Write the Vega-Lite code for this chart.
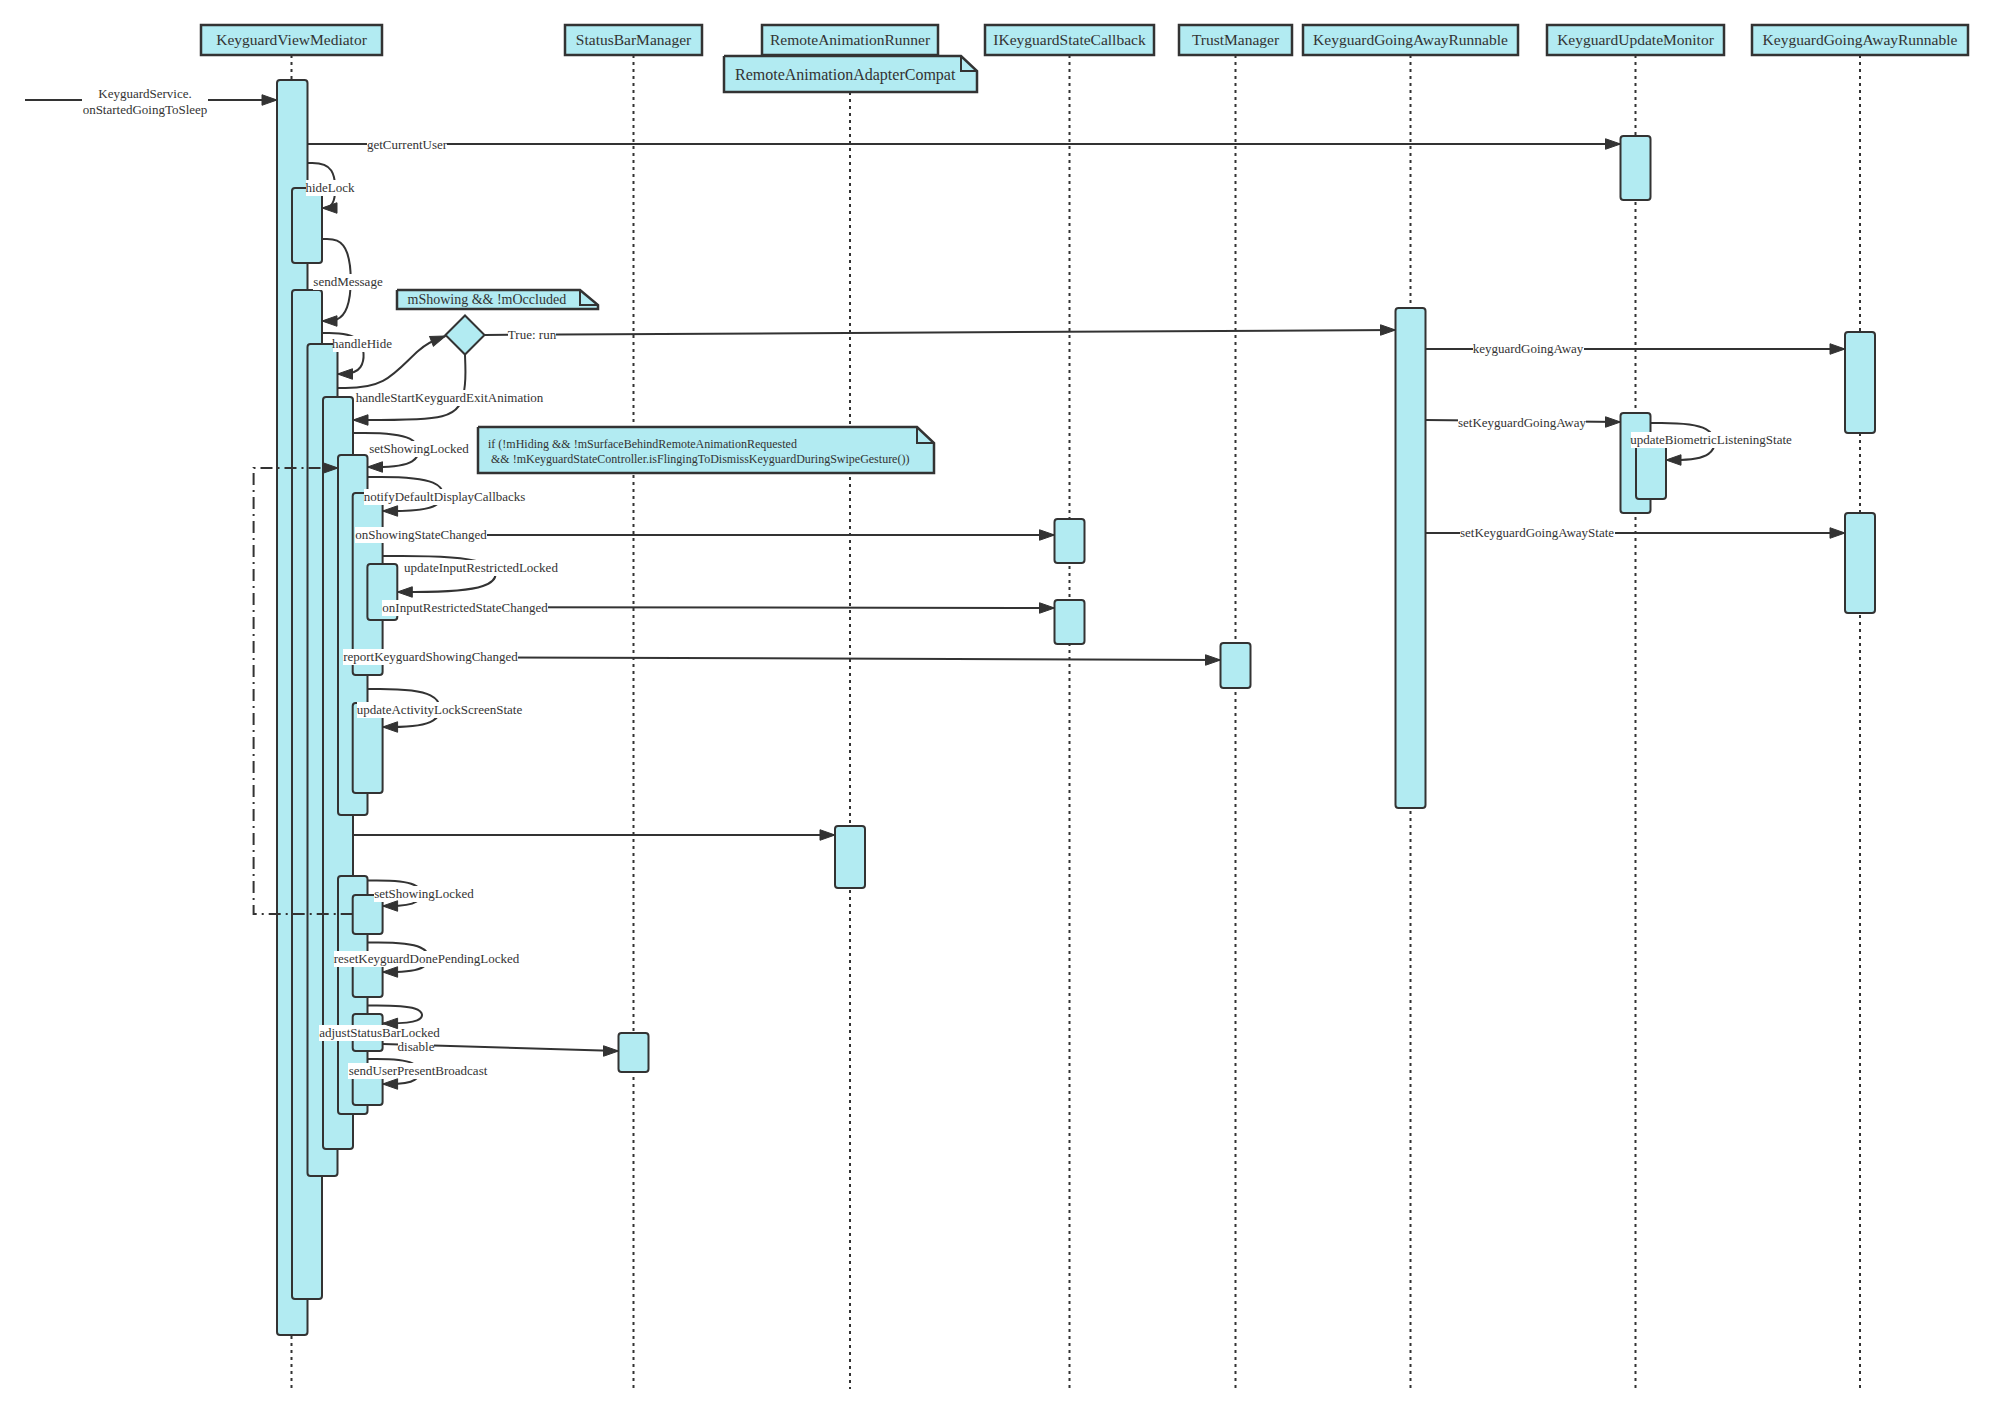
{
  "$schema": "https://vega.github.io/schema/vega-lite/v6.json",
  "width": 1993,
  "height": 1413,
  "autosize": {"type": "fit", "contains": "padding"},
  "padding": 0,
  "background": "white",
  "config": {"view": {"stroke": null}},
  "datasets": {
    "heads": [
      {"x": 201, "x2": 382, "y": 25, "y2": 55, "cx": 291.5, "cy": 40, "label": "KeyguardViewMediator"},
      {"x": 565, "x2": 702, "y": 25, "y2": 55, "cx": 633.5, "cy": 40, "label": "StatusBarManager"},
      {"x": 762, "x2": 938, "y": 25, "y2": 55, "cx": 850, "cy": 40, "label": "RemoteAnimationRunner"},
      {"x": 985, "x2": 1154, "y": 25, "y2": 55, "cx": 1069.5, "cy": 40, "label": "IKeyguardStateCallback"},
      {"x": 1179, "x2": 1292, "y": 25, "y2": 55, "cx": 1235.5, "cy": 40, "label": "TrustManager"},
      {"x": 1303, "x2": 1518, "y": 25, "y2": 55, "cx": 1410.5, "cy": 40, "label": "KeyguardGoingAwayRunnable"},
      {"x": 1547, "x2": 1724, "y": 25, "y2": 55, "cx": 1635.5, "cy": 40, "label": "KeyguardUpdateMonitor"},
      {"x": 1752, "x2": 1968, "y": 25, "y2": 55, "cx": 1860, "cy": 40, "label": "KeyguardGoingAwayRunnable"}
    ],
    "lifelines": [
      {"x": 291.5, "y": 55, "y2": 1389},
      {"x": 633.5, "y": 55, "y2": 1389},
      {"x": 850, "y": 92, "y2": 1389},
      {"x": 1069.5, "y": 55, "y2": 1389},
      {"x": 1235.5, "y": 55, "y2": 1389},
      {"x": 1410.5, "y": 55, "y2": 1389},
      {"x": 1635.5, "y": 55, "y2": 1389},
      {"x": 1860, "y": 55, "y2": 1389}
    ],
    "bars": [
      {"x": 277, "x2": 307.5, "y": 80, "y2": 1335},
      {"x": 292, "x2": 322, "y": 188, "y2": 263},
      {"x": 292, "x2": 322, "y": 290, "y2": 1299},
      {"x": 307.5, "x2": 337.5, "y": 344, "y2": 1176},
      {"x": 323, "x2": 353, "y": 397, "y2": 1149},
      {"x": 338, "x2": 367.5, "y": 455, "y2": 815},
      {"x": 352.7, "x2": 382.6, "y": 493, "y2": 675},
      {"x": 367.4, "x2": 397.3, "y": 564, "y2": 620},
      {"x": 352.7, "x2": 382.6, "y": 703, "y2": 793},
      {"x": 338, "x2": 367.5, "y": 876, "y2": 1114},
      {"x": 352.7, "x2": 382.6, "y": 895, "y2": 934},
      {"x": 352.7, "x2": 382.6, "y": 952, "y2": 997},
      {"x": 352.7, "x2": 382.6, "y": 1014, "y2": 1051},
      {"x": 352.7, "x2": 382.6, "y": 1065, "y2": 1105},
      {"x": 618.5, "x2": 648.5, "y": 1033, "y2": 1072},
      {"x": 835, "x2": 865, "y": 826, "y2": 888},
      {"x": 1054.5, "x2": 1084.5, "y": 519, "y2": 563},
      {"x": 1054.5, "x2": 1084.5, "y": 600, "y2": 644},
      {"x": 1220.5, "x2": 1250.5, "y": 643, "y2": 688},
      {"x": 1395.5, "x2": 1425.5, "y": 308, "y2": 808},
      {"x": 1620.5, "x2": 1650.5, "y": 136, "y2": 200},
      {"x": 1620.5, "x2": 1650.5, "y": 413, "y2": 513},
      {"x": 1636, "x2": 1666, "y": 436, "y2": 499},
      {"x": 1845, "x2": 1875, "y": 332, "y2": 433},
      {"x": 1845, "x2": 1875, "y": 513, "y2": 613}
    ],
    "msgs": [
      {"x": 25, "y": 100, "x2": 277, "y2": 100},
      {"x": 307.5, "y": 144, "x2": 1620.5, "y2": 144},
      {"x": 485, "y": 335, "x2": 1395.5, "y2": 330},
      {"x": 382.6, "y": 535, "x2": 1054.5, "y2": 535},
      {"x": 397.3, "y": 607, "x2": 1054.5, "y2": 608},
      {"x": 382.6, "y": 657, "x2": 1220.5, "y2": 660},
      {"x": 353, "y": 835, "x2": 835, "y2": 835},
      {"x": 382.6, "y": 1044, "x2": 618.5, "y2": 1051},
      {"x": 1425.5, "y": 349, "x2": 1845, "y2": 349},
      {"x": 1425.5, "y": 420, "x2": 1620.5, "y2": 422},
      {"x": 1425.5, "y": 533, "x2": 1845, "y2": 533}
    ],
    "curvepts": [
      {"id": "hideLock", "o": 1, "x": 307.5, "y": 163}, {"id": "hideLock", "o": 2, "x": 336, "y": 163}, {"id": "hideLock", "o": 3, "x": 336, "y": 208}, {"id": "hideLock", "o": 4, "x": 322, "y": 208},
      {"id": "sendMessage", "o": 1, "x": 322, "y": 239}, {"id": "sendMessage", "o": 2, "x": 352, "y": 239}, {"id": "sendMessage", "o": 3, "x": 352, "y": 321}, {"id": "sendMessage", "o": 4, "x": 322, "y": 321},
      {"id": "handleHide", "o": 1, "x": 322, "y": 333}, {"id": "handleHide", "o": 2, "x": 365, "y": 333}, {"id": "handleHide", "o": 3, "x": 365, "y": 374}, {"id": "handleHide", "o": 4, "x": 337.5, "y": 374},
      {"id": "toDiamond", "o": 1, "x": 337.5, "y": 388}, {"id": "toDiamond", "o": 2, "x": 385, "y": 388}, {"id": "toDiamond", "o": 3, "x": 420, "y": 345}, {"id": "toDiamond", "o": 4, "x": 445.5, "y": 336},
      {"id": "fromDiamond", "o": 1, "x": 465, "y": 355}, {"id": "fromDiamond", "o": 2, "x": 467, "y": 415}, {"id": "fromDiamond", "o": 3, "x": 420, "y": 420}, {"id": "fromDiamond", "o": 4, "x": 353, "y": 420},
      {"id": "setShowing1", "o": 1, "x": 353, "y": 433}, {"id": "setShowing1", "o": 2, "x": 421, "y": 433}, {"id": "setShowing1", "o": 3, "x": 421, "y": 467}, {"id": "setShowing1", "o": 4, "x": 367.5, "y": 467},
      {"id": "notify", "o": 1, "x": 367.5, "y": 477}, {"id": "notify", "o": 2, "x": 446, "y": 477}, {"id": "notify", "o": 3, "x": 446, "y": 511}, {"id": "notify", "o": 4, "x": 382.6, "y": 511},
      {"id": "updInput", "o": 1, "x": 382.6, "y": 556}, {"id": "updInput", "o": 2, "x": 500, "y": 556}, {"id": "updInput", "o": 3, "x": 500, "y": 592}, {"id": "updInput", "o": 4, "x": 397.3, "y": 592},
      {"id": "updActivity", "o": 1, "x": 367.5, "y": 689}, {"id": "updActivity", "o": 2, "x": 443, "y": 689}, {"id": "updActivity", "o": 3, "x": 443, "y": 727}, {"id": "updActivity", "o": 4, "x": 382.6, "y": 727},
      {"id": "setShowing2", "o": 1, "x": 367.5, "y": 880.5}, {"id": "setShowing2", "o": 2, "x": 423, "y": 880.5}, {"id": "setShowing2", "o": 3, "x": 423, "y": 906}, {"id": "setShowing2", "o": 4, "x": 382.6, "y": 906},
      {"id": "reset", "o": 1, "x": 367.5, "y": 942.6}, {"id": "reset", "o": 2, "x": 431, "y": 942.6}, {"id": "reset", "o": 3, "x": 431, "y": 972}, {"id": "reset", "o": 4, "x": 382.6, "y": 972},
      {"id": "adjust", "o": 1, "x": 367.5, "y": 1005.5}, {"id": "adjust", "o": 2, "x": 424, "y": 1005.5}, {"id": "adjust", "o": 3, "x": 424, "y": 1023.4}, {"id": "adjust", "o": 4, "x": 382.6, "y": 1023.4},
      {"id": "sendUser", "o": 1, "x": 367.5, "y": 1059}, {"id": "sendUser", "o": 2, "x": 421, "y": 1059}, {"id": "sendUser", "o": 3, "x": 421, "y": 1084}, {"id": "sendUser", "o": 4, "x": 382.6, "y": 1084},
      {"id": "biometric", "o": 1, "x": 1650.5, "y": 423}, {"id": "biometric", "o": 2, "x": 1717, "y": 423}, {"id": "biometric", "o": 3, "x": 1717, "y": 460}, {"id": "biometric", "o": 4, "x": 1666, "y": 460}
    ],
    "looppts": [
      {"o": 1, "x": 352.7, "y": 914},
      {"o": 2, "x": 253.6, "y": 914},
      {"o": 3, "x": 253.6, "y": 468},
      {"o": 4, "x": 338, "y": 468}
    ],
    "notepts": [
      {"id": "n1", "o": 1, "x": 397, "y": 290}, {"id": "n1", "o": 2, "x": 580, "y": 290}, {"id": "n1", "o": 3, "x": 598, "y": 305}, {"id": "n1", "o": 4, "x": 598, "y": 309}, {"id": "n1", "o": 5, "x": 397, "y": 309}, {"id": "n1", "o": 6, "x": 397, "y": 290},
      {"id": "n2", "o": 1, "x": 724, "y": 56}, {"id": "n2", "o": 2, "x": 961, "y": 56}, {"id": "n2", "o": 3, "x": 977, "y": 71}, {"id": "n2", "o": 4, "x": 977, "y": 92}, {"id": "n2", "o": 5, "x": 724, "y": 92}, {"id": "n2", "o": 6, "x": 724, "y": 56},
      {"id": "n3", "o": 1, "x": 478, "y": 427}, {"id": "n3", "o": 2, "x": 917, "y": 427}, {"id": "n3", "o": 3, "x": 934, "y": 443}, {"id": "n3", "o": 4, "x": 934, "y": 473}, {"id": "n3", "o": 5, "x": 478, "y": 473}, {"id": "n3", "o": 6, "x": 478, "y": 427}
    ],
    "foldpts": [
      {"id": "f1", "o": 1, "x": 580, "y": 290}, {"id": "f1", "o": 2, "x": 580, "y": 305}, {"id": "f1", "o": 3, "x": 598, "y": 305},
      {"id": "f2", "o": 1, "x": 961, "y": 56}, {"id": "f2", "o": 2, "x": 961, "y": 71}, {"id": "f2", "o": 3, "x": 977, "y": 71},
      {"id": "f3", "o": 1, "x": 917, "y": 427}, {"id": "f3", "o": 2, "x": 917, "y": 443}, {"id": "f3", "o": 3, "x": 934, "y": 443}
    ],
    "labels": [
      {"text": "KeyguardService.", "x": 145, "y": 94, "bx": 82, "bx2": 208, "by": 86, "by2": 102},
      {"text": "onStartedGoingToSleep", "x": 145, "y": 110, "bx": 82, "bx2": 208, "by": 102, "by2": 118},
      {"text": "getCurrentUser", "x": 407, "y": 145, "bx": 367, "bx2": 447, "by": 137, "by2": 153},
      {"text": "hideLock", "x": 330, "y": 188, "bx": 306, "bx2": 355, "by": 180, "by2": 196},
      {"text": "sendMessage", "x": 348, "y": 282, "bx": 313, "bx2": 383, "by": 274, "by2": 290},
      {"text": "handleHide", "x": 362, "y": 344, "bx": 333, "bx2": 392, "by": 336, "by2": 352},
      {"text": "True: run", "x": 532, "y": 335, "bx": 508, "bx2": 556, "by": 327, "by2": 343},
      {"text": "handleStartKeyguardExitAnimation", "x": 449.5, "y": 398, "bx": 356, "bx2": 543, "by": 390, "by2": 406},
      {"text": "setShowingLocked", "x": 419, "y": 449, "bx": 369, "bx2": 469, "by": 441, "by2": 457},
      {"text": "notifyDefaultDisplayCallbacks", "x": 444.5, "y": 497, "bx": 364, "bx2": 525, "by": 489, "by2": 505},
      {"text": "onShowingStateChanged", "x": 421, "y": 535, "bx": 355, "bx2": 487, "by": 527, "by2": 543},
      {"text": "updateInputRestrictedLocked", "x": 481, "y": 568, "bx": 404, "bx2": 558, "by": 560, "by2": 576},
      {"text": "onInputRestrictedStateChanged", "x": 465, "y": 608, "bx": 382, "bx2": 548, "by": 600, "by2": 616},
      {"text": "reportKeyguardShowingChanged", "x": 430.5, "y": 657, "bx": 343, "bx2": 518, "by": 649, "by2": 665},
      {"text": "updateActivityLockScreenState", "x": 439.5, "y": 710, "bx": 357, "bx2": 522, "by": 702, "by2": 718},
      {"text": "setShowingLocked", "x": 424, "y": 894, "bx": 374, "bx2": 474, "by": 886, "by2": 902},
      {"text": "resetKeyguardDonePendingLocked", "x": 426.5, "y": 959, "bx": 334, "bx2": 519, "by": 951, "by2": 967},
      {"text": "adjustStatusBarLocked", "x": 379.5, "y": 1033, "bx": 319, "bx2": 440, "by": 1025, "by2": 1041},
      {"text": "disable", "x": 416, "y": 1047, "bx": 398, "bx2": 434, "by": 1040, "by2": 1055},
      {"text": "sendUserPresentBroadcast", "x": 418, "y": 1071, "bx": 348, "bx2": 488, "by": 1063, "by2": 1079},
      {"text": "keyguardGoingAway", "x": 1528, "y": 349, "bx": 1473, "bx2": 1584, "by": 341, "by2": 357},
      {"text": "setKeyguardGoingAway", "x": 1522, "y": 423, "bx": 1458, "bx2": 1586, "by": 415, "by2": 431},
      {"text": "updateBiometricListeningState", "x": 1711, "y": 440, "bx": 1631, "bx2": 1791, "by": 432, "by2": 448},
      {"text": "setKeyguardGoingAwayState", "x": 1537, "y": 533, "bx": 1460, "bx2": 1615, "by": 525, "by2": 541}
    ]
  },
  "encoding": {
    "x": {"field": "x", "type": "quantitative", "scale": {"domain": [0, 1993], "nice": false, "zero": false}, "axis": null},
    "y": {"field": "y", "type": "quantitative", "scale": {"domain": [0, 1413], "nice": false, "zero": false, "reverse": true}, "axis": null}
  },
  "layer": [
    {
      "data": {"name": "lifelines"},
      "mark": {"type": "rule", "stroke": "#333333", "strokeWidth": 2, "strokeDash": [3, 4]},
      "encoding": {"y2": {"field": "y2"}}
    },
    {
      "data": {"name": "heads"},
      "mark": {"type": "rect", "fill": "#B2EBF2", "stroke": "#333333", "strokeWidth": 2.5},
      "encoding": {"x2": {"field": "x2"}, "y2": {"field": "y2"}}
    },
    {
      "data": {"name": "heads"},
      "mark": {"type": "text", "font": "Liberation Serif", "fontSize": 15.5, "fill": "#333333", "align": "center", "baseline": "middle"},
      "encoding": {
        "x": {"field": "cx", "type": "quantitative", "scale": {"domain": [0, 1993], "nice": false, "zero": false}, "axis": null},
        "y": {"field": "cy", "type": "quantitative", "scale": {"domain": [0, 1413], "nice": false, "zero": false, "reverse": true}, "axis": null},
        "text": {"field": "label"}
      }
    },
    {
      "data": {"name": "notepts"},
      "mark": {"type": "line", "fill": "#B2EBF2", "filled": true, "stroke": "#333333", "strokeWidth": 2.5, "interpolate": "linear"},
      "encoding": {"detail": {"field": "id"}, "order": {"field": "o", "type": "quantitative"}}
    },
    {
      "data": {"name": "foldpts"},
      "mark": {"type": "line", "stroke": "#333333", "strokeWidth": 2},
      "encoding": {"detail": {"field": "id"}, "order": {"field": "o", "type": "quantitative"}}
    },
    {
      "data": {"name": "msgs"},
      "mark": {"type": "rule", "stroke": "#333333", "strokeWidth": 2},
      "encoding": {"x2": {"field": "x2"}, "y2": {"field": "y2"}}
    },
    {
      "data": {"name": "curvepts"},
      "mark": {"type": "line", "stroke": "#333333", "strokeWidth": 2, "interpolate": "basis"},
      "encoding": {"detail": {"field": "id"}, "order": {"field": "o", "type": "quantitative"}}
    },
    {
      "data": {"name": "bars"},
      "mark": {"type": "rect", "fill": "#B2EBF2", "stroke": "#333333", "strokeWidth": 2, "cornerRadius": 3},
      "encoding": {"x2": {"field": "x2"}, "y2": {"field": "y2"}}
    },
    {
      "data": {"name": "looppts"},
      "mark": {"type": "line", "stroke": "#333333", "strokeWidth": 2, "strokeDash": [12, 5, 2, 5]},
      "encoding": {"order": {"field": "o", "type": "quantitative"}}
    },
    {
      "data": {"name": "labels"},
      "mark": {"type": "rect", "fill": "white", "stroke": null},
      "encoding": {
        "x": {"field": "bx", "type": "quantitative", "scale": {"domain": [0, 1993], "nice": false, "zero": false}, "axis": null},
        "x2": {"field": "bx2"},
        "y": {"field": "by", "type": "quantitative", "scale": {"domain": [0, 1413], "nice": false, "zero": false, "reverse": true}, "axis": null},
        "y2": {"field": "by2"}
      }
    },
    {
      "data": {"name": "labels"},
      "mark": {"type": "text", "font": "Liberation Serif", "fontSize": 13, "fill": "#333333", "align": "center", "baseline": "middle"},
      "encoding": {"text": {"field": "text"}}
    },
    {
      "data": {"values": [{"text": "mShowing && !mOccluded", "x": 407.5, "y": 300}]},
      "mark": {"type": "text", "font": "Liberation Serif", "fontSize": 14, "fill": "#333333", "align": "left", "baseline": "middle"},
      "encoding": {"text": {"field": "text"}}
    },
    {
      "data": {"values": [{"text": "RemoteAnimationAdapterCompat", "x": 735, "y": 75}]},
      "mark": {"type": "text", "font": "Liberation Serif", "fontSize": 16, "fill": "#333333", "align": "left", "baseline": "middle"},
      "encoding": {"text": {"field": "text"}}
    },
    {
      "data": {"values": [
        {"text": "if (!mHiding  && !mSurfaceBehindRemoteAnimationRequested", "x": 488, "y": 444},
        {"text": "&& !mKeyguardStateController.isFlingingToDismissKeyguardDuringSwipeGesture())", "x": 491, "y": 459}
      ]},
      "mark": {"type": "text", "font": "Liberation Serif", "fontSize": 12, "fill": "#333333", "align": "left", "baseline": "middle"},
      "encoding": {"text": {"field": "text"}}
    },
    {
      "data": {"name": "msgs"},
      "mark": {"type": "point", "shape": "M0,0L-2,-0.7L-2,0.7Z", "size": 225, "filled": true, "fill": "#333333", "stroke": "#333333", "strokeWidth": 1, "opacity": 1},
      "encoding": {
        "x": {"field": "x2", "type": "quantitative", "scale": {"domain": [0, 1993], "nice": false, "zero": false}, "axis": null},
        "y": {"field": "y2", "type": "quantitative", "scale": {"domain": [0, 1413], "nice": false, "zero": false, "reverse": true}, "axis": null}
      }
    },
    {
      "data": {"name": "looppts"},
      "transform": [{"filter": "datum.o == 4"}],
      "mark": {"type": "point", "shape": "M0,0L-2,-0.7L-2,0.7Z", "size": 225, "filled": true, "fill": "#333333", "stroke": "#333333", "strokeWidth": 1, "opacity": 1}
    },
    {
      "data": {"name": "curvepts"},
      "transform": [{"filter": "datum.o == 4 && datum.id != 'toDiamond'"}],
      "mark": {"type": "point", "shape": "M0,0L2,-0.7L2,0.7Z", "size": 225, "filled": true, "fill": "#333333", "stroke": "#333333", "strokeWidth": 1, "opacity": 1}
    },
    {
      "data": {"name": "curvepts"},
      "transform": [{"filter": "datum.o == 4 && datum.id == 'toDiamond'"}],
      "mark": {"type": "point", "shape": "M0,0L-2,-0.7L-2,0.7Z", "size": 225, "angle": -21, "filled": true, "fill": "#333333", "stroke": "#333333", "strokeWidth": 1, "opacity": 1}
    },
    {
      "data": {"values": [{"x": 465, "y": 335}]},
      "mark": {"type": "point", "shape": "diamond", "size": 1521, "filled": true, "fill": "#B2EBF2", "stroke": "#333333", "strokeWidth": 2, "opacity": 1}
    }
  ]
}
